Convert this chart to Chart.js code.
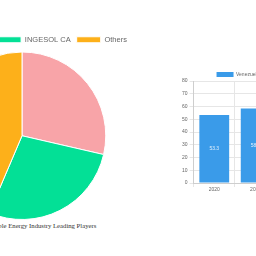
<!DOCTYPE html>
<html>
<head>
<meta charset="utf-8">
<script src="https://cdn.jsdelivr.net/npm/chart.js@4.4.1/dist/chart.umd.min.js"></script>
<style>
  html, body { margin: 0; padding: 0; background: #fff; width: 256px; height: 256px; overflow: hidden; position: relative; }
  #pieBox { position: absolute; left: -98px; top: 30px; width: 240px; height: 190px; }
  #barBox { position: absolute; left: 180px; top: 71px; width: 262px; height: 122px; }
  #caption { position: absolute; left: -78px; top: 222px; width: 200px; text-align: center;
    font-family: "Liberation Serif", serif; font-size: 6.7px; color: #333; white-space: nowrap; }
</style>
</head>
<body>
<div id="pieBox"><canvas id="graficaJugadores"></canvas></div>
<div id="barBox"><canvas id="graficaMercado"></canvas></div>
<div id="caption">Venezuela Renewable Energy Industry Leading Players</div>
<script>
// Participacion de los principales jugadores
const empresas = ['Corpoelec SA', 'INGESOL CA', 'Others'];
const participacion = [28.6, 27.8, 43.6];
const coloresEmpresas = ['#f8a4a8', '#03e096', '#fdb01a'];

// Tamano de mercado por anio
const anios = ['2020', '2021', '2022', '2023', '2024', '2025'];
const tamanoMercado = [53.3, 58.5, 63.1, 68.4, 73.2, 78.9];
const etiquetaSerie = 'Venezuela Renewable Energy Industry Market Size (Values in Billions, USD)';
const ticksY = [0, 10, 20, 30, 40, 50, 60, 70, 80];

Chart.defaults.font.family = '"Liberation Sans", Arial, sans-serif';
Chart.defaults.color = '#666';

// Recorta el espacio que deja la leyenda debajo de ella
function recortarLeyenda(px) {
    return {
        id: 'recortarLeyenda',
        beforeInit(chart) {
            const fitOriginal = chart.legend.fit;
            chart.legend.fit = function () {
                fitOriginal.bind(chart.legend)();
                this.height -= px;
            };
        }
    };
}

new Chart(document.getElementById('graficaJugadores'), {
    type: 'pie',
    data: {
        labels: empresas,
        datasets: [{
            data: participacion,
            backgroundColor: coloresEmpresas,
            borderColor: '#fff',
            borderWidth: 1
        }]
    },
    options: {
        responsive: true,
        maintainAspectRatio: false,
        animation: false,
        layout: { padding: 0 },
        plugins: {
            legend: {
                display: true,
                position: 'top',
                labels: { boxWidth: 24, boxHeight: 6, padding: 6, font: { size: 7.5 } }
            },
            tooltip: { enabled: false }
        }
    },
    plugins: [recortarLeyenda(2)]
});

// Etiquetas de valor dentro de las barras
const valoresEnBarras = {
    id: 'valoresEnBarras',
    afterDatasetsDraw(chart) {
        const ctx = chart.ctx;
        const meta = chart.getDatasetMeta(0);
        ctx.save();
        ctx.font = '5px "Liberation Sans", Arial, sans-serif';
        ctx.fillStyle = 'rgba(255,255,255,0.85)';
        ctx.textAlign = 'center';
        ctx.textBaseline = 'middle';
        meta.data.forEach((bar, i) => {
            const y = (bar.y + bar.base) / 2;
            ctx.fillText(tamanoMercado[i].toFixed(1), bar.x, y);
        });
        ctx.restore();
    }
};

new Chart(document.getElementById('graficaMercado'), {
    type: 'bar',
    data: {
        labels: anios,
        datasets: [{
            label: etiquetaSerie,
            data: tamanoMercado,
            backgroundColor: '#3a9be9',
            borderColor: '#3a9be9',
            borderWidth: 0
        }]
    },
    options: {
        responsive: true,
        maintainAspectRatio: false,
        animation: false,
        layout: { padding: 0 },
        scales: {
            x: {
                grid: { color: '#e6e6e6', tickLength: 4 },
                ticks: { font: { size: 5 }, padding: 0 }
            },
            y: {
                min: 0,
                max: 80,
                afterBuildTicks: (axis) => { axis.ticks = ticksY.map(v => ({ value: v })); },
                grid: { color: '#e6e6e6', tickLength: 4 },
                ticks: { font: { size: 5 }, padding: 2 }
            }
        },
        plugins: {
            legend: {
                display: true,
                position: 'top',
                labels: { boxWidth: 17, boxHeight: 5, padding: 1, font: { size: 5 } }
            },
            tooltip: { enabled: false }
        }
    },
    plugins: [valoresEnBarras, recortarLeyenda(6)]
});
</script>
</body>
</html>
